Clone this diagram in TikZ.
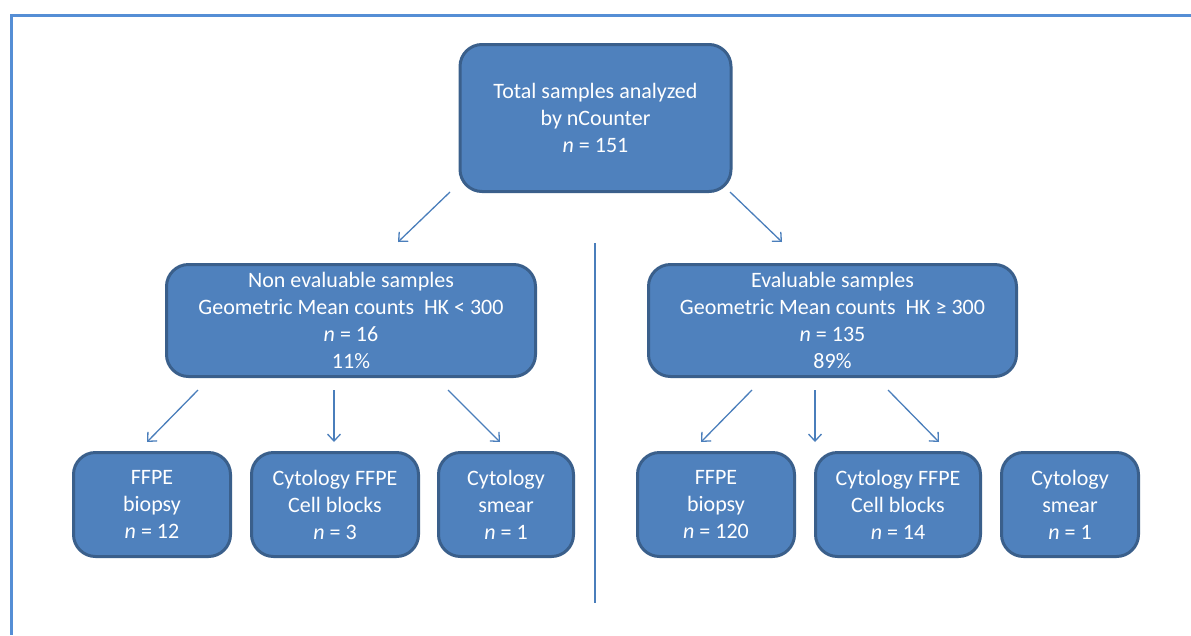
\documentclass[tikz,border=0pt]{standalone}
\usepackage{fontspec}
\setmainfont{Carlito}
\usetikzlibrary{arrows.meta}
\definecolor{boxfill}{HTML}{4F81BD}
\definecolor{boxdraw}{HTML}{3A5F8B}
\definecolor{arrowc}{HTML}{4A7EBB}
\definecolor{framec}{HTML}{558ED5}
\begin{document}
\begin{tikzpicture}[x=1pt,y=-1pt,
  box/.style={draw=boxdraw, line width=3pt, fill=boxfill, rounded corners=22pt,
    text=white, align=center, font=\fontsize{22}{27}\selectfont, inner sep=0pt,
    execute at begin node={\rule{0pt}{20.5pt}}},
  arr/.style={draw=arrowc, line width=1.3pt, -{Straight Barb[length=7pt,width=13pt]}},
  divider/.style={draw=arrowc, line width=1.3pt}]
\useasboundingbox (0,0) rectangle (1191,635);
\draw[framec, line width=3pt] (1191,15) -- (11,15) -- (11,635);

\node[box, minimum width=271pt, minimum height=147pt] (top) at (595.5,118)
  {Total samples analyzed\\by nCounter\\\textit{n} = 151};
\node[box, minimum width=369pt, minimum height=112pt] (non) at (351,320.5)
  {Non evaluable samples\\Geometric Mean counts \ HK < 300\\\textit{n} = 16\\11\%};
\node[box, minimum width=368pt, minimum height=112pt] (eva) at (832.5,320.5)
  {Evaluable samples\\Geometric Mean counts \ HK ≥ 300\\\textit{n} = 135\\89\%};

\node[box, minimum width=157pt, minimum height=104pt] (b1) at (152,504.5)
  {FFPE\\biopsy\\\textit{n} = 12};
\node[box, minimum width=167pt, minimum height=104pt] (b2) at (335,504.5)
  {Cytology FFPE\\Cell blocks\\\textit{n} = 3};
\node[box, minimum width=135pt, minimum height=104pt] (b3) at (506,504.5)
  {Cytology\\smear\\\textit{n} = 1};
\node[box, minimum width=157pt, minimum height=104pt] (b4) at (716,504.5)
  {FFPE\\biopsy\\\textit{n} = 120};
\node[box, minimum width=165pt, minimum height=104pt] (b5) at (898,504.5)
  {Cytology FFPE\\Cell blocks\\\textit{n} = 14};
\node[box, minimum width=137pt, minimum height=104pt] (b6) at (1070,504.5)
  {Cytology\\smear\\\textit{n} = 1};

\coordinate (a1s) at (450,192); \coordinate (a1e) at (398,242);
\coordinate (a2s) at (730,192); \coordinate (a2e) at (782,242);
\coordinate (a3s) at (198,390); \coordinate (a3e) at (147,442);
\coordinate (a4s) at (334,390); \coordinate (a4e) at (334,442);
\coordinate (a5s) at (448,390); \coordinate (a5e) at (500,442);
\coordinate (a6s) at (752,390); \coordinate (a6e) at (701,442);
\coordinate (a7s) at (815,390); \coordinate (a7e) at (815,442);
\coordinate (a8s) at (888,390); \coordinate (a8e) at (939,442);
\coordinate (dvs) at (595,243); \coordinate (dve) at (595,603);

\draw[arr] (a1s) -- (a1e);
\draw[arr] (a2s) -- (a2e);
\draw[arr] (a3s) -- (a3e);
\draw[arr] (a4s) -- (a4e);
\draw[arr] (a5s) -- (a5e);
\draw[arr] (a6s) -- (a6e);
\draw[arr] (a7s) -- (a7e);
\draw[arr] (a8s) -- (a8e);
\draw[divider] (dvs) -- (dve);
\end{tikzpicture}
\end{document}
